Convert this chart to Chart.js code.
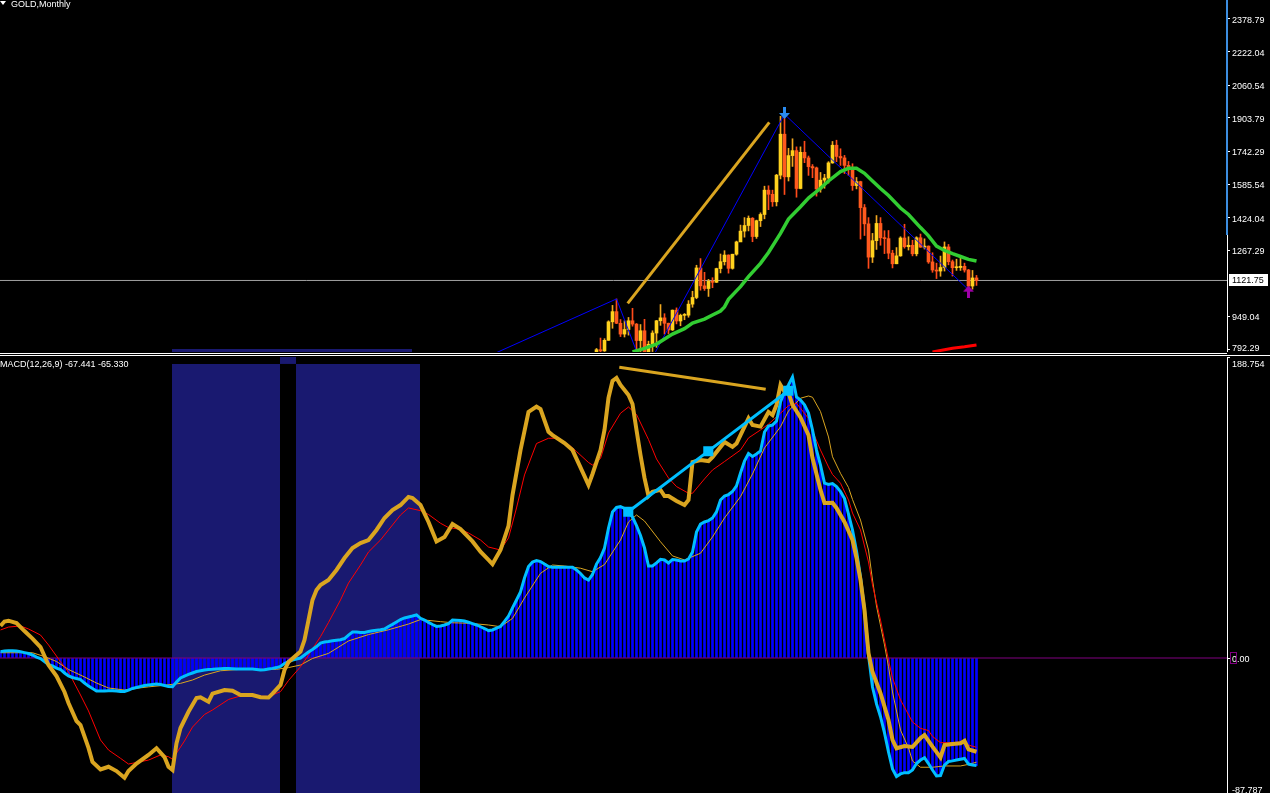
<!DOCTYPE html>
<html lang="en">
<head>
<meta charset="utf-8">
<title>GOLD,Monthly</title>
<script src="https://cdn.jsdelivr.net/npm/chart.js@4/dist/chart.umd.min.js"></script>
<style>
  html, body { margin: 0; padding: 0; background: #000; overflow: hidden; }
  #wrap { position: relative; width: 1270px; height: 793px; overflow: hidden; background: #000; }
  #wrap canvas { position: absolute; left: 0; }
  #priceChart { top: 0; }
  #macdChart { top: 357px; }
  .sep { position: absolute; left: 0; height: 1px; background: #fff; }
  .caption { position: absolute; left: 0; color: #fff; font: 9px/9px "Liberation Sans", Arial, sans-serif; white-space: nowrap; }
  .tri { display: inline-block; width: 0; height: 0; border-left: 3px solid transparent; border-right: 3px solid transparent; border-top: 4px solid #fff; margin-right: 5px; vertical-align: 2px; }
</style>
</head>
<body>
<div id="wrap">
  <canvas id="priceChart" width="1270" height="352"></canvas>
  <canvas id="macdChart" width="1270" height="441"></canvas>
  <div class="sep" style="top:353px;width:1227px"></div>
  <div class="sep" style="top:355px;width:1270px"></div>
  <div class="caption" style="top:0"><span class="tri"></span>GOLD,Monthly</div>
  <div class="caption" style="top:360px">MACD(12,26,9) -67.441 -65.330</div>
</div>
<script>
// x axis is the bar number (one bar per month, bar 0 = May 1995, bar 244 = Sep 2015)
const barMin = -0.125;
const barMax = 306.625;   // empty space to the right of the last bar

// ---- price panel ---------------------------------------------------------
const priceTicks = [2378.79, 2222.04, 2060.54, 1903.79, 1742.29, 1585.54, 1424.04, 1267.29, 949.04, 792.29];
const priceMin = 777.9;
const priceMax = 2470.1;
const lastPrice = 1121.75;

// monthly candles Oct 2007 .. Sep 2015 (earlier bars are below the visible range)
const firstCandle = 149;
const candleOpen = [
  743, 789, 783,
  834, 923, 972, 916, 864, 886, 928, 912, 833, 880, 717, 815,
  869, 928, 942, 916, 884, 979, 927, 954, 955, 1008, 1040, 1182,
  1096, 1083, 1118, 1113, 1179, 1212, 1244, 1180, 1248, 1307, 1359, 1386,
  1421, 1333, 1409, 1439, 1556, 1536, 1500, 1628, 1825, 1620, 1722, 1746,
  1564, 1738, 1711, 1669, 1663, 1562, 1604, 1614, 1687, 1772, 1718, 1711,
  1675, 1663, 1578, 1597, 1472, 1394, 1234, 1313, 1396, 1327, 1323, 1253,
  1202, 1240, 1326, 1284, 1291, 1250, 1327, 1282, 1287, 1211, 1172, 1167,
  1184, 1283, 1212, 1183, 1184, 1190, 1172, 1095, 1134
];
const candleHigh = [
  795, 845, 842,
  928, 1002, 1033, 934, 928, 944, 988, 915, 910, 935, 830, 880,
  930, 1006, 962, 917, 980, 990, 960, 963, 1025, 1070, 1195, 1227,
  1161, 1127, 1135, 1181, 1249, 1265, 1245, 1248, 1311, 1388, 1424, 1432,
  1424, 1412, 1447, 1575, 1577, 1556, 1632, 1911, 1921, 1757, 1803, 1764,
  1764, 1791, 1720, 1679, 1667, 1641, 1632, 1693, 1790, 1796, 1755, 1723,
  1694, 1683, 1617, 1599, 1487, 1424, 1348, 1434, 1424, 1361, 1362, 1267,
  1280, 1332, 1392, 1332, 1315, 1332, 1345, 1322, 1288, 1255, 1205, 1239,
  1307, 1295, 1220, 1224, 1232, 1205, 1175, 1170, 1146
];
const candleLow = [
  733, 775, 781,
  834, 892, 914, 852, 850, 859, 902, 786, 740, 681, 705, 780,
  800, 906, 864, 865, 881, 913, 904, 933, 945, 993, 1034, 1075,
  1074, 1045, 1087, 1112, 1158, 1196, 1157, 1176, 1243, 1316, 1330, 1360,
  1308, 1324, 1381, 1418, 1462, 1478, 1480, 1610, 1535, 1600, 1670, 1522,
  1562, 1688, 1627, 1616, 1527, 1546, 1565, 1590, 1685, 1693, 1675, 1636,
  1627, 1555, 1562, 1321, 1338, 1180, 1208, 1271, 1291, 1251, 1226, 1182,
  1202, 1238, 1277, 1268, 1240, 1240, 1281, 1273, 1204, 1161, 1131, 1142,
  1167, 1197, 1143, 1170, 1170, 1162, 1077, 1080, 1098
];
const candleClose = [
  789, 783, 834,
  923, 972, 916, 864, 886, 928, 912, 833, 880, 717, 815, 869,
  928, 942, 916, 884, 979, 927, 954, 955, 1008, 1040, 1182, 1096,
  1083, 1118, 1113, 1179, 1212, 1244, 1180, 1248, 1307, 1359, 1386, 1421,
  1333, 1409, 1439, 1556, 1536, 1500, 1628, 1825, 1620, 1722, 1746, 1564,
  1738, 1711, 1669, 1663, 1562, 1604, 1614, 1687, 1772, 1718, 1711, 1675,
  1663, 1578, 1597, 1472, 1394, 1234, 1313, 1396, 1327, 1323, 1253, 1202,
  1240, 1326, 1284, 1291, 1250, 1327, 1282, 1287, 1211, 1172, 1167, 1184,
  1283, 1212, 1183, 1184, 1190, 1172, 1095, 1134, 1121.75
];

// moving averages (bar, price)
const maIdx = [158, 161, 164, 168, 171, 173, 176, 178, 180, 181, 182, 185, 187, 190, 192, 195, 197, 200, 202, 205,
  207, 210, 212, 214, 216, 218, 220, 222, 225, 227, 230, 232, 234, 236, 238, 240, 242, 244];
const maVal = [778, 795, 816, 864, 890, 917, 936, 956, 975, 995, 1031, 1092, 1140, 1204, 1256, 1348, 1417, 1476, 1518, 1565,
  1600, 1645, 1661, 1661, 1637, 1600, 1564, 1530, 1470, 1439, 1376, 1336, 1287, 1266, 1251, 1237, 1223, 1215];
const longMaIdx = [233, 236, 238, 241, 244];
const longMaVal = [778, 789, 796, 803, 812];

// zigzag swings
const zigIdx = [124, 154, 161, 196, 242];
const zigVal = [775, 1033, 681, 1921, 1077];

// drawn objects
const trendIdx = [156.8, 192.2];
const trendVal = [1012, 1882];
const arrowIdx = [196, 242];
const arrowVal = [1927, 1068];
const zoneIdx = [42.875, 102.875];
const zoneTop = 792.3;

// ---- MACD panel ----------------------------------------------------------
const macdTicks = [188.754, 0, -87.787];
const macdTickText = ['188.754', '0.00', '-87.787'];
const macdMin = -87.787;
const macdMax = 188.754;

// MACD main, one value per bar (drawn as histogram and line)
const macdMain = [
  4.0, 4.4, 4.6, 4.6, 4.4, 4.0, 3.4, 2.8, 1.9, 0.6,
  -0.3, -2.2, -4.1, -5.0, -6.3, -7.2, -9.4, -11.3, -12.2, -12.9,
  -13.5, -15.7, -17.6, -19.1, -20.7, -20.7, -20.7, -20.5, -20.5, -20.7,
  -21.0, -21.0, -20.1, -19.1, -18.5, -17.9, -17.2, -16.9, -16.6, -16.3,
  -16.6, -17.2, -17.9, -18.0, -15.1, -12.5, -11.3, -10.3, -9.4, -8.5,
  -8.0, -7.5, -7.2, -7.1, -6.9, -6.7, -6.6, -6.6, -6.7, -6.9,
  -6.9, -6.9, -6.9, -6.9, -7.2, -7.5, -7.4, -6.9, -6.5, -6.0,
  -5.3, -3.4, -2.2, -1.3, -0.6, 0.0, 1.9, 3.8, 5.3, 7.2,
  9.4, 10.0, 10.3, 10.8, 11.2, 11.5, 12.2, 14.4, 16.3, 16.3,
  16.0, 16.0, 16.6, 17.1, 17.4, 17.7, 18.2, 19.8, 21.1, 22.6,
  24.1, 25.1, 25.7, 26.3, 27.0, 24.9, 23.8, 22.3, 21.0, 19.8,
  20.1, 20.7, 21.6, 23.8, 23.7, 23.5, 23.2, 22.4, 21.6, 20.7,
  19.6, 18.5, 17.2, 17.6, 18.8, 19.8, 22.9, 26.3, 31.4, 36.4,
  41.4, 50.2, 57.4, 60.2, 61.1, 60.5, 58.9, 57.4, 56.9, 56.9,
  56.9, 56.9, 56.9, 56.9, 55.2, 53.0, 50.2, 48.9, 52.4, 58.9,
  63.0, 69.0, 81.5, 91.6, 94.4, 94.9, 93.8, 91.6, 88.4, 83.1,
  76.8, 69.0, 57.7, 57.7, 59.6, 61.9, 61.5, 59.6, 61.8, 61.5,
  60.8, 60.8, 62.1, 66.5, 79.0, 84.0, 85.3, 86.2, 87.8, 91.6,
  99.1, 101.6, 102.5, 104.4, 107.9, 116.0, 123.5, 128.2, 126.4, 127.9,
  129.8, 141.7, 145.5, 146.1, 148.6, 160.5, 166.8, 171.2, 176.2, 163.7,
  161.8, 158.7, 153.6, 143.0, 130.4, 121.0, 109.7, 108.8, 109.4, 107.5,
  104.4, 100.0, 90.3, 80.3, 67.1, 50.8, 30.1, 1.9, -18.2, -28.8,
  -36.8, -47.0, -58.9, -69.6, -74.3, -72.7, -71.9, -71.9, -70.2, -66.2,
  -64.0, -62.5, -66.2, -70.2, -74.0, -73.7, -67.1, -64.9, -64.5, -64.0,
  -63.5, -63.0, -66.5, -67.1, -67.441
];

// MACD signal (bar, value)
const signalIdx = [0, 5, 8, 11, 14, 17, 21, 24, 27, 31, 34, 37, 41, 45, 48, 51, 55, 60, 65, 69,
  72, 75, 78, 82, 87, 92, 97, 102, 105, 110, 113, 117, 122, 125, 128, 131, 135, 138, 141, 145,
  148, 151, 155, 157, 159, 161, 165, 168, 171, 175, 178, 181, 185, 188, 191, 195, 197, 200, 202, 203,
  205, 207, 208, 210, 212, 213, 215, 217, 218, 219, 221, 222, 223, 225, 227, 228, 230, 233, 236, 240,
  242, 244];
const signalVal = [3.3, 3.3, 3.3, 0.9, -2.2, -7.2, -11.9, -15.7, -18.8, -20.1, -19.0, -18.1, -17.1, -15.9, -13.8, -10.7, -8.0, -7.1, -7.1, -7.1,
  -6.0, -4.4, -0.3, 2.9, 10.7, 14.7, 17.7, 21.3, 24.1, 22.8, 22.1, 21.8, 20.7, 19.6, 24.8, 37.6, 53.1, 58.3, 57.7, 56.3,
  54.1, 58.6, 74.0, 85.3, 89.7, 85.9, 72.9, 64.0, 61.5, 65.7, 75.9, 87.8, 101.2, 115.4, 131.7, 145.0, 154.9, 162.9, 164.3, 163.5,
  154.5, 138.6, 126.2, 115.8, 106.9, 99.4, 86.5, 67.7, 48.9, 32.6, 8.2, -5.5, -21.3, -45.2, -56.4, -64.6, -68.5, -68.5, -67.7, -67.7,
  -66.7, -65.33];

// second oscillator (thick gold) and its signal (red)
const oscIdx = [0, 1, 2, 4, 6, 8, 10, 12, 14, 16, 17, 19, 20, 22, 23, 25, 27, 29, 31, 32,
  34, 37, 39, 41, 42, 43, 44, 45, 47, 49, 50, 52, 53, 56, 58, 60, 63, 65, 67, 68,
  70, 71, 72, 73, 75, 76, 77, 78, 79, 80, 82, 84, 86, 88, 90, 92, 94, 96, 98, 100,
  102, 103, 105, 107, 109, 111, 113, 115, 118, 120, 122, 123, 125, 127, 128, 130, 132, 134, 135, 137,
  138, 141, 143, 146, 147, 148, 150, 151, 152, 153, 154, 155, 157, 158, 159, 160, 161, 162, 163, 165,
  166, 167, 169, 171, 172, 173, 175, 177, 178, 181, 183, 184, 187, 188, 190, 192, 193, 194, 195, 196,
  197, 198, 200, 202, 203, 205, 206, 208, 209, 211, 213, 214, 215, 216, 217, 218, 220, 222, 223, 224,
  226, 228, 230, 231, 233, 235, 236, 238, 240, 241, 242, 244];
const oscVal = [20.1, 22.9, 23.4, 21.9, 16.9, 12.2, 6.9, -4.4, -11.3, -21.3, -28.2, -39.5, -42.0, -56.4, -65.2, -69.9, -68.2, -70.9, -75.1, -70.9,
  -66.2, -60.8, -56.6, -62.1, -68.2, -70.2, -53.5, -43.9, -33.7, -25.1, -24.6, -27.4, -22.3, -20.1, -20.5, -23.2, -23.2, -24.6, -24.8, -22.3,
  -16.9, -7.5, -2.5, -0.3, 4.0, 11.3, 23.8, 36.4, 42.6, 45.8, 48.9, 55.2, 62.7, 69.0, 72.1, 74.0, 80.3, 87.8, 92.8, 95.9,
  101.0, 100.3, 95.9, 85.3, 73.1, 75.9, 84.0, 80.9, 73.1, 66.7, 61.5, 58.9, 67.7, 82.8, 102.2, 130.4, 154.3, 157.6, 156.1, 141.9,
  139.8, 134.8, 130.4, 114.1, 108.5, 115.4, 130.4, 143.0, 163.1, 173.7, 175.6, 171.2, 164.9, 159.3, 143.0, 127.3, 112.9, 101.6, 104.2, 105.4,
  101.6, 101.6, 98.5, 95.9, 99.1, 122.9, 124.2, 123.5, 126.0, 135.5, 132.4, 134.5, 150.3, 146.1, 145.1, 154.3, 152.4, 158.7, 171.2, 167.0,
  166.2, 158.7, 150.8, 139.8, 125.4, 105.4, 97.2, 97.4, 94.1, 85.3, 74.0, 62.7, 48.9, 30.1, 3.1, -8.8, -22.1, -38.9, -51.4, -56.6,
  -55.2, -55.8, -50.2, -48.3, -55.6, -62.3, -54.6, -53.9, -53.5, -52.0, -57.3, -58.8];
const oscSigIdx = [0, 2, 5, 7, 10, 12, 15, 17, 20, 22, 25, 27, 30, 32, 33, 37, 40, 42, 43, 46,
  48, 51, 53, 57, 60, 63, 67, 70, 72, 75, 77, 80, 82, 85, 87, 90, 92, 95, 97, 100,
  102, 105, 107, 110, 112, 115, 117, 120, 122, 125, 127, 129, 131, 134, 137, 139, 142, 144, 147, 148,
  150, 152, 155, 157, 159, 162, 164, 167, 169, 172, 173, 176, 178, 181, 185, 187, 190, 192, 195, 197,
  199, 200, 202, 203, 205, 207, 208, 210, 212, 213, 215, 217, 218, 220, 222, 223, 225, 228, 230, 232,
  233, 235, 238, 241, 242, 244];
const oscSigVal = [17.6, 19.4, 20.1, 18.2, 14.4, 8.2, -2.3, -8.8, -23.2, -33.2, -51.4, -57.7, -62.9, -66.5, -66.0, -64.0, -60.8, -61.9, -63.5, -52.0,
  -43.3, -35.4, -32.6, -26.0, -23.8, -23.8, -24.1, -21.1, -14.1, -5.5, 1.9, 13.4, 22.3, 36.4, 47.0, 58.3, 66.5, 74.0, 80.3, 89.7,
  94.1, 92.4, 90.0, 84.5, 81.8, 80.7, 78.4, 74.0, 69.6, 67.7, 75.3, 94.1, 114.8, 134.5, 137.8, 137.8, 133.9, 129.5, 122.6, 121.0,
  125.1, 141.1, 153.5, 157.4, 152.7, 137.0, 124.8, 112.9, 107.5, 103.3, 103.3, 112.3, 117.9, 123.2, 130.4, 138.0, 143.0, 146.7, 153.5, 158.3,
  159.7, 156.6, 150.2, 142.4, 130.4, 119.8, 115.1, 109.6, 99.1, 90.9, 80.3, 60.2, 45.8, 23.8, -1.3, -12.5, -26.3, -40.1, -44.1, -45.5,
  -49.2, -53.1, -53.1, -52.5, -54.6, -56.0];

// drawn objects in the MACD window
const divIdx = [154.7, 191.3];
const divVal = [182.3, 168.5];
const riseIdx = [156.95, 176.95, 196.95];
const riseVal = [91.7, 129.7, 167.6];
const boxFrom = [42.875, 73.875];
const boxTo = [69.875, 104.875];
const boxTop = 184.4;
const notchIdx = [69.875, 73.875];

// ---- helpers --------------------------------------------------------------
const NAVY = '#191970';
const GOLD = '#DAA520';
const pairs = (xs, ys) => xs.map((x, k) => ({ x: x, y: ys[k] }));
const candleX = candleOpen.map((_, k) => firstCandle + k);
const isUp = k => candleClose[k] >= candleOpen[k];

function makeArrow(color, down) {
  const c = document.createElement('canvas');
  c.width = 11; c.height = 12;
  const g = c.getContext('2d');
  if (down) { g.translate(0, 12); g.scale(1, -1); }
  g.fillStyle = color;
  g.beginPath();
  g.moveTo(5.5, 0); g.lineTo(11, 6); g.lineTo(7, 6); g.lineTo(7, 12);
  g.lineTo(4, 12); g.lineTo(4, 6); g.lineTo(0, 6);
  g.closePath();
  g.fill();
  return c;
}

const axisText = {
  id: 'axisText',
  afterDraw(chart, args, opts) {
    const ctx = chart.ctx;
    const s = chart.scales.y;
    ctx.save();
    ctx.font = '9px "Liberation Sans", Arial, sans-serif';
    ctx.textBaseline = 'middle';
    ctx.fillStyle = '#ffffff';
    opts.values.forEach((v, k) => {
      const py = Math.max(s.top + 6, Math.min(s.bottom - opts.bottomGap, s.getPixelForValue(v)));
      ctx.fillText(opts.texts[k], s.left + 5, py + 1.5);
    });
    if (opts.price !== undefined) {
      const py = Math.round(s.getPixelForValue(opts.price));
      ctx.fillRect(s.left + 2, py - 6, 39, 12);
      ctx.fillStyle = '#000000';
      ctx.fillText(opts.price.toFixed(2), s.left + 5, py + 1);
      ctx.fillStyle = '#3c8ee0';
      ctx.fillRect(s.left - 1, 0, 2, 235);
    }
    if (opts.level !== undefined) {
      const py = Math.round(s.getPixelForValue(opts.level));
      ctx.strokeStyle = '#800080';
      ctx.strokeRect(s.left + 3.5, py - 5.5, 6, 11);
    }
    ctx.restore();
  }
};

function yAxis(min, max, ticks) {
  return {
    position: 'right', min: min, max: max, offset: false, beginAtZero: false,
    afterFit: s => { s.width = 43; },
    afterBuildTicks: s => { s.ticks = ticks.map(v => ({ value: v })); },
    ticks: { display: false },
    grid: { drawOnChartArea: false, drawTicks: true, tickLength: 3, color: '#ffffff', offset: false },
    border: { display: true, color: '#ffffff', width: 1 }
  };
}

function baseOptions(min, max, ticks, textOpts) {
  return {
    responsive: false, animation: false, events: [],
    layout: { padding: 0, autoPadding: false },
    elements: { point: { radius: 0 }, line: { tension: 0 } },
    plugins: { legend: { display: false }, tooltip: { enabled: false }, axisText: textOpts },
    scales: {
      x: { type: 'linear', display: false, offset: false, grid: { offset: false }, min: barMin, max: barMax },
      y: yAxis(min, max, ticks)
    }
  };
}

const barStyle = { type: 'bar', grouped: false, barPercentage: 1, categoryPercentage: 1 };

// ---- price chart ------------------------------------------------------------
new Chart(document.getElementById('priceChart'), {
  type: 'line',
  data: {
    datasets: [
      { data: pairs(zoneIdx, [zoneTop, zoneTop]), fill: 'start', backgroundColor: NAVY, borderWidth: 0, order: 30 },
      { data: pairs([barMin, barMax], [lastPrice, lastPrice]), borderColor: '#a0a0a0', borderWidth: 1, order: 25 },
      Object.assign({}, barStyle, {
        maxBarThickness: 1, order: 20,
        data: candleX.map((x, k) => ({ x: x, y: [candleLow[k], candleHigh[k]] })),
        backgroundColor: c => isUp(c.dataIndex) ? '#F0A820' : '#FF4A1A'
      }),
      Object.assign({}, barStyle, {
        maxBarThickness: 3, minBarLength: 1, order: 19,
        data: candleX.map((x, k) => ({ x: x, y: [candleOpen[k], candleClose[k]] })),
        backgroundColor: c => isUp(c.dataIndex) ? '#FFD21E' : '#FF5A1E'
      }),
      { data: pairs(zigIdx, zigVal), borderColor: '#0000ff', borderWidth: 1, order: 10 },
      { data: pairs(longMaIdx, longMaVal), borderColor: '#ff0000', borderWidth: 3, order: 6 },
      { data: pairs(maIdx, maVal), borderColor: '#32CD32', borderWidth: 3.5, order: 5 },
      { data: pairs(trendIdx, trendVal), borderColor: GOLD, borderWidth: 3, order: 3 },
      {
        data: pairs(arrowIdx, arrowVal), showLine: false, order: 1,
        pointRadius: 6, pointStyle: [makeArrow('#2a8cf0', true), makeArrow('#a000a8', false)]
      }
    ]
  },
  options: baseOptions(priceMin, priceMax, priceTicks, {
    values: priceTicks, texts: priceTicks.map(v => v.toFixed(2)), price: lastPrice, bottomGap: 4.5
  }),
  plugins: [axisText]
});

// ---- MACD chart -------------------------------------------------------------
new Chart(document.getElementById('macdChart'), {
  type: 'line',
  data: {
    datasets: [
      { data: pairs([boxFrom[0], boxTo[0]], [boxTop, boxTop]), fill: 'start', backgroundColor: NAVY, borderWidth: 0, order: 30 },
      { data: pairs([boxFrom[1], boxTo[1]], [boxTop, boxTop]), fill: 'start', backgroundColor: NAVY, borderWidth: 0, order: 30 },
      { data: pairs(notchIdx, [macdMax, macdMax]), fill: { value: boxTop }, backgroundColor: NAVY, borderWidth: 0, order: 30 },
      Object.assign({}, barStyle, {
        maxBarThickness: 2, order: 20,
        data: macdMain.map((v, i) => ({ x: i, y: v })), backgroundColor: '#0000ff'
      }),
      { data: pairs([barMin, barMax], [0, 0]), borderColor: '#800080', borderWidth: 1, order: 15 },
      { data: pairs(signalIdx, signalVal), borderColor: GOLD, borderWidth: 1, order: 9 },
      { data: pairs(oscSigIdx, oscSigVal), borderColor: '#ff0000', borderWidth: 1, order: 8 },
      { data: macdMain.map((v, i) => ({ x: i, y: v })), borderColor: '#00BFFF', borderWidth: 3, order: 7 },
      { data: pairs(oscIdx, oscVal), borderColor: GOLD, borderWidth: 4, order: 6 },
      { data: pairs(divIdx, divVal), borderColor: GOLD, borderWidth: 3, order: 2 },
      {
        data: pairs(riseIdx, riseVal), borderColor: '#00BFFF', borderWidth: 3, order: 1,
        pointRadius: 5, pointStyle: 'rect', pointBackgroundColor: '#00BFFF', pointBorderColor: '#00BFFF'
      }
    ]
  },
  options: baseOptions(macdMin, macdMax, macdTicks, {
    values: macdTicks, texts: macdTickText, level: 0, bottomGap: 9
  }),
  plugins: [axisText]
});
</script>
</body>
</html>
